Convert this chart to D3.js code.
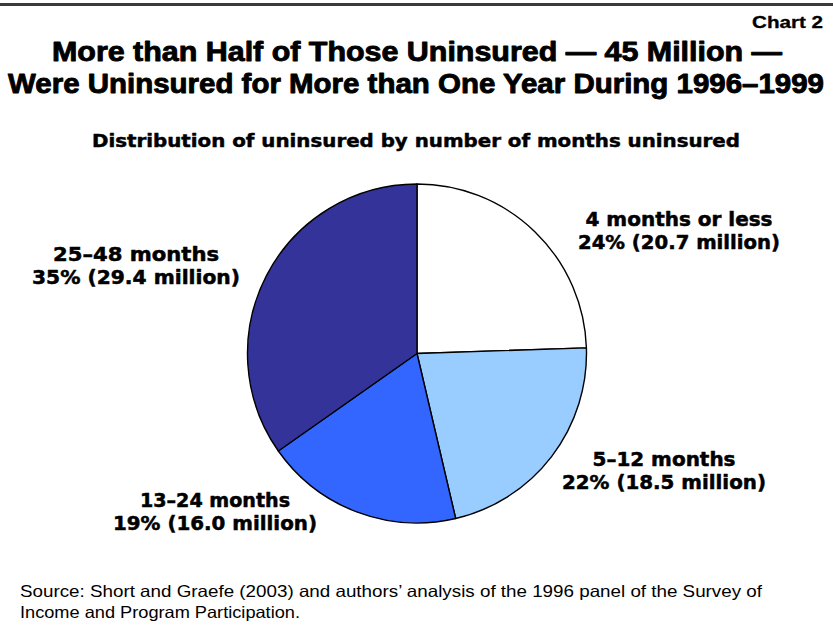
<!DOCTYPE html>
<html>
<head>
<meta charset="utf-8">
<script src="https://cdn.jsdelivr.net/npm/d3@7"></script>
<style>
  html, body { margin: 0; padding: 0; background: #fff; }
  svg { display: block; }
</style>
</head>
<body>
<svg id="chart" width="833" height="635"></svg>
<script>
// Distribution of the uninsured by number of months uninsured, 1996–1999
const categories = ["4 months or less", "5\u201312 months", "13\u201324 months", "25\u201348 months"];
const millions = [20.7, 18.5, 16.0, 29.4];
const percents = [24, 22, 19, 35];
const colors = ["#ffffff", "#99ccff", "#3366ff", "#333399"];

const svg = d3.select("#chart");
const W = 833;

// rule across the top
svg.append("line")
  .attr("x1", 0).attr("x2", W)
  .attr("y1", 4.5).attr("y2", 4.5)
  .attr("stroke", "#3a3a3a").attr("stroke-width", 3);

// helper for fitted text
function fitText(g, str, x, y, opts) {
  const t = g.append("text")
    .attr("x", x).attr("y", y)
    .attr("text-anchor", opts.anchor || "middle")
    .attr("font-family", opts.family)
    .attr("font-weight", opts.weight || "bold")
    .attr("font-size", opts.size)
    .attr("fill", "#000")
    .text(str);
  if (opts.heavy) t.attr("stroke", "#000").attr("stroke-width", opts.heavy).attr("stroke-linejoin", "round");
  if (opts.width) t.attr("textLength", opts.width).attr("lengthAdjust", "spacingAndGlyphs");
  return t;
}

const sans = "'Liberation Sans', Arial, sans-serif";
const heavy = "'DejaVu Sans', 'Liberation Sans', sans-serif";

fitText(svg, "Chart 2", 823, 28, {anchor: "end", family: sans, size: 16, width: 71, heavy: 0.3});
fitText(svg, "More than Half of Those Uninsured \u2014 45 Million \u2014", 417, 61, {family: sans, size: 27.5, width: 730, heavy: 0.9});
fitText(svg, "Were Uninsured for More than One Year During 1996\u20131999", 416, 93, {family: sans, size: 27.5, width: 816, heavy: 0.9});
fitText(svg, "Distribution of uninsured by number of months uninsured", 416, 147, {family: heavy, size: 18.5, width: 648, heavy: 0.5});

// pie
const cx = 417, cy = 353.5, r = 169.5;
const pie = d3.pie().sort(null).value(d => d)(millions);
const arc = d3.arc().innerRadius(0).outerRadius(r);

const gPie = svg.append("g").attr("transform", `translate(${cx},${cy})`);
gPie.selectAll("path")
  .data(pie)
  .join("path")
  .attr("d", arc)
  .attr("fill", (d, i) => colors[i])
  .attr("stroke", "#000")
  .attr("stroke-width", 1.4)
  .attr("stroke-linejoin", "round");

// slice labels
const labelPos = [
  {x: 679, y: 226, w1: 187, w2: 202},
  {x: 664, y: 466, w1: 143, w2: 204},
  {x: 215, y: 507, w1: 150, w2: 204},
  {x: 136, y: 261, w1: 166, w2: 208}
];
categories.forEach((c, i) => {
  const p = labelPos[i];
  fitText(svg, c, p.x, p.y, {family: heavy, size: 19, width: p.w1, heavy: 0.5});
  fitText(svg, `${percents[i]}% (${millions[i].toFixed(1)} million)`, p.x, p.y + 22.5, {family: heavy, size: 19, width: p.w2, heavy: 0.5});
});

// source note
const src = svg.append("g");
fitText(src, "Source: Short and Graefe (2003) and authors\u2019 analysis of the 1996 panel of the Survey of", 20, 596.5,
  {anchor: "start", family: sans, weight: "normal", size: 16.5, width: 742});
fitText(src, "Income and Program Participation.", 20, 617.5,
  {anchor: "start", family: sans, weight: "normal", size: 16.5, width: 280});
</script>
</body>
</html>
